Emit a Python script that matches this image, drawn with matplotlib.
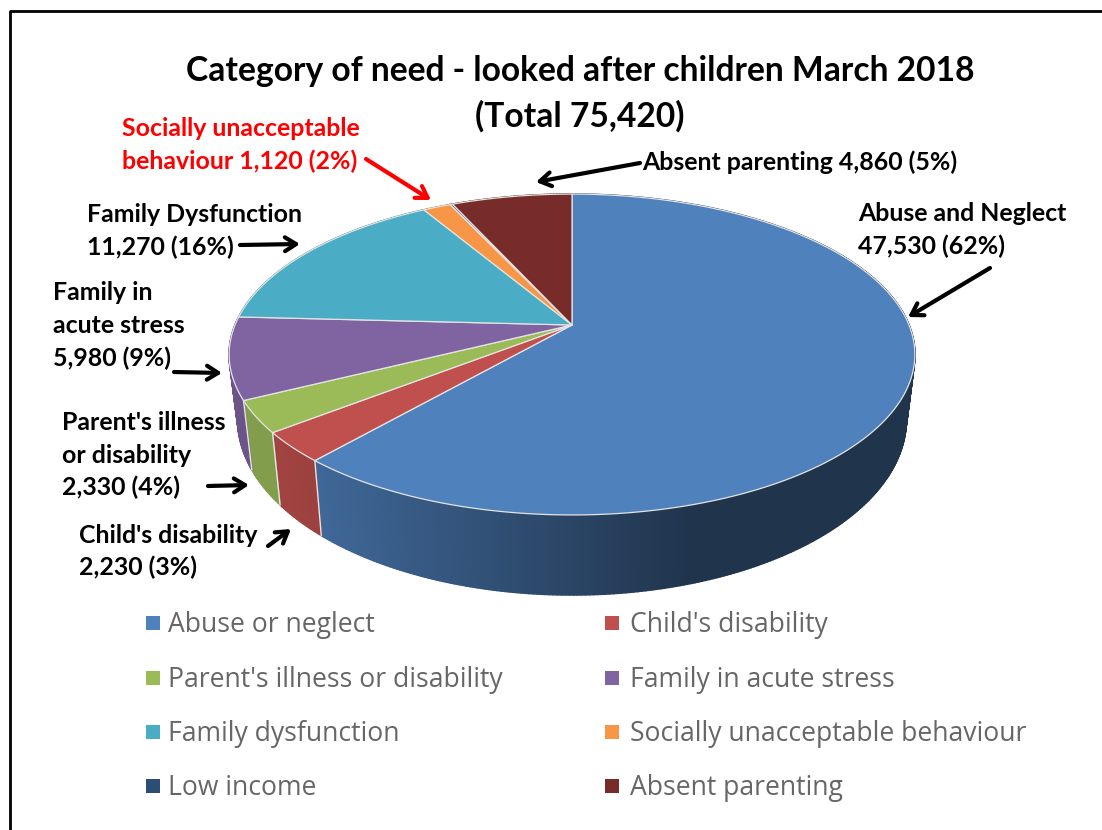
import numpy as np
import matplotlib
matplotlib.use('Agg')
import matplotlib.pyplot as plt
from matplotlib.collections import PolyCollection
from matplotlib.patches import Polygon, Rectangle

# Chart values
Categories = ['Abuse or neglect',"Child's disability","Parent's illness or disability",
              'Family in acute stress','Family dysfunction','Socially unacceptable behaviour',
              'Low income','Absent parenting']
Values = [47530,2230,2330,5980,11270,1120,100,4860]
Colors = ['#4f81bd','#c0504d','#9bbb59','#8064a2','#4bacc6','#f79646','#2c4d75','#772c2a']
TitleLines = ['Category of need - looked after children March 2018','(Total 75,420)']

# Callouts: text lines, left edge, line centres, text colour
Callouts = [
    (['Socially unacceptable','behaviour 1,120 (2%)'],122,[128,161],'#ff0000'),
    (['Absent parenting 4,860 (5%)'],642,[162],'black'),
    (['Abuse and Neglect','47,530 (62%)'],858,[213,246],'black'),
    (['Family Dysfunction','11,270 (16%)'],87,[214,247],'black'),
    (['Family in','acute stress','5,980 (9%)'],53,[292,325,358],'black'),
    (["Parent's illness",'or disability','2,330 (4%)'],62,[422,455,487],'black'),
    (["Child's disability",'2,230 (3%)'],79,[535,567],'black'),
]
Arrows = [
    ((366,159),(431,200),'#ff0000'),
    ((640,163),(536,182),'black'),
    ((990,268),(908,317),'black'),
    ((240,245),(300,244),'black'),
    ((174,372),(222,373),'black'),
    ((208,486),(249,485),'black'),
    ((268,546),(291,529),'black'),
]

# Pie geometry in figure pixels, perspective circle
CenterX,CenterY = 572,325
ScaleX,ScaleY,Persp = 337,155,0.184

def TopRim(Angle):
    # Angles run clockwise from 12 o'clock, the sine term is the view skew of the 3D pie
    Seen = Angle - 0.11 * np.sin(Angle / 2)
    X = np.sin(Seen)
    Y = np.cos(Seen)
    W = 1 + Persp * Y
    return CenterX + ScaleX * X / W,CenterY - ScaleY * Y / W

def BottomRim(Angle):
    X,Y = TopRim(Angle)
    return CenterX + (X - CenterX) * 0.975,Y + 80 + (Y - 515) * 0.095

def Shade(Color,Factor):
    Rgb = np.array(matplotlib.colors.to_rgb(Color))
    return tuple(Rgb * Factor)

Fig = plt.figure(figsize = (11.02,8.30),dpi = 100)
Ax = Fig.add_axes([0,0,1,1])
Ax.set_xlim(0,1102)
Ax.set_ylim(830,0)
Ax.axis('off')

# Frame, only the left and top edges are in view
Ax.plot([10,10,1102],[830,11.5,11.5],color = 'black',linewidth = 2,solid_capstyle = 'butt')

Edges = 2 * np.pi * np.concatenate(([0],np.cumsum(Values))) / np.sum(Values)

# Side wall as thin strips, darker towards the right
Strips = []
StripColors = []
for i,Color in enumerate(Colors):
    Steps = max(2,int((Edges[i+1] - Edges[i]) / 0.01))
    Grid = np.linspace(Edges[i],Edges[i+1],Steps + 1)
    for a,b in zip(Grid[:-1],Grid[1:]):
        Xa,Ya = TopRim(a)
        Xb,Yb = TopRim(b)
        Xc,Yc = BottomRim(b)
        Xd,Yd = BottomRim(a)
        Strips.append([(Xa,Ya),(Xb,Yb),(Xc,Yc),(Xd,Yd)])
        Factor = np.clip(0.80 - (Xa - 320) / 380 * 0.40,0.40,0.84)
        StripColors.append(Shade(Color,Factor))
Ax.add_collection(PolyCollection(Strips,facecolors = StripColors,edgecolors = StripColors,
                                 linewidths = 1.2,zorder = 2))

# Light dividers on the visible wall
for Edge in Edges[1:4]:
    Xa,Ya = TopRim(Edge)
    Xb,Yb = BottomRim(Edge)
    Ax.plot([Xa,Xb],[Ya,Yb],color = '#e6e6e6',linewidth = 1,zorder = 3)

# Top surface
for i,Color in enumerate(Colors):
    Grid = np.linspace(Edges[i],Edges[i+1],max(3,int((Edges[i+1] - Edges[i]) / 0.01)))
    X,Y = TopRim(Grid)
    Points = np.column_stack((np.r_[CenterX,X],np.r_[CenterY,Y]))
    Ax.add_patch(Polygon(Points,closed = True,facecolor = Color,edgecolor = '#e4e4e4',
                         linewidth = 0.9,joinstyle = 'round',zorder = 4))

# Title
for Line,Y in zip(TitleLines,[71,116]):
    Ax.text(580,Y,Line,family = 'Lato',fontweight = 'bold',fontsize = 24.2,ha = 'center',
            va = 'center',color = 'black')

# Callout labels
for Lines,Left,Ys,Color in Callouts:
    for Line,Y in zip(Lines,Ys):
        Ax.text(Left,Y,Line,family = 'Lato',fontweight = 'bold',fontsize = 17.9,ha = 'left',
                va = 'center',color = Color)

for Start,End,Color in Arrows:
    Ax.annotate('',xy = End,xytext = Start,zorder = 6,
                arrowprops = dict(arrowstyle = '->,head_length=0.8,head_width=0.5',color = Color,
                                  linewidth = 3,shrinkA = 0,shrinkB = 0))

# Legend, two columns
LegendX = [153,612]
LegendY = [623,678,732,786]
for i,Name in enumerate(Categories):
    X = LegendX[i % 2]
    Y = LegendY[i // 2]
    Ax.add_patch(Rectangle((X - 7,Y - 7),14,14,facecolor = Colors[i],edgecolor = 'none'))
    Ax.text(X + 15 + 3 * (i % 2),Y + 2,Name,family = 'Open Sans',fontsize = 19.1,ha = 'left',
            va = 'center',color = '#666666')

Fig.savefig('out.png',dpi = 100)
